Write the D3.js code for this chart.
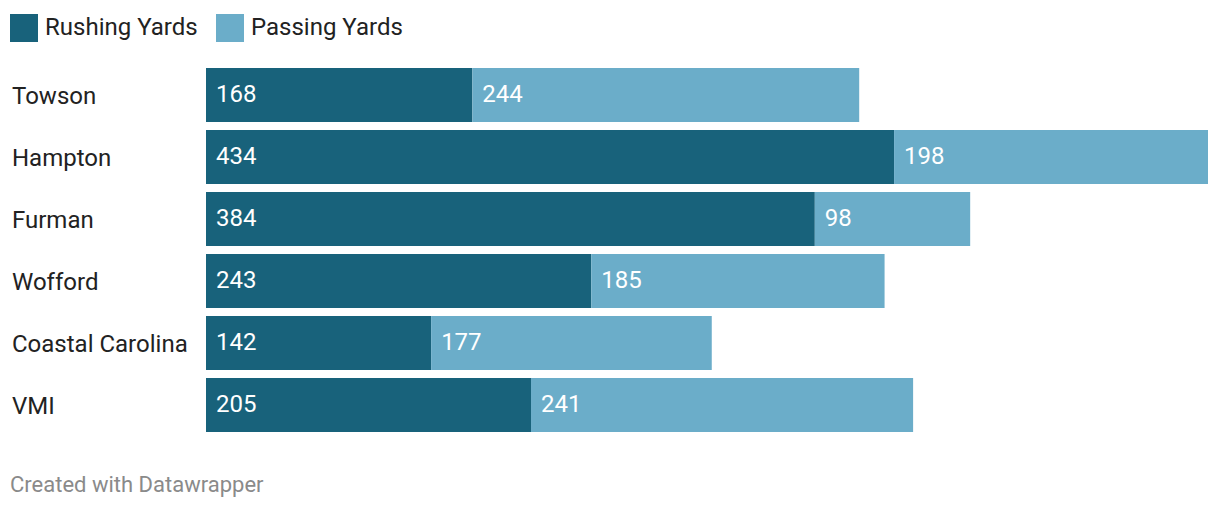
<!DOCTYPE html>
<html>
<head>
<meta charset="utf-8">
<script src="https://cdn.jsdelivr.net/npm/d3@7"></script>
<style>
  body { margin: 0; background: #fff; }
  text { font-family: Roboto, sans-serif; }
</style>
</head>
<body>
<div id="chart"></div>
<script>
const teams = ['Towson', 'Hampton', 'Furman', 'Wofford', 'Coastal Carolina', 'VMI'];
const rushing = [168, 434, 384, 243, 142, 205];
const passing = [244, 198, 98, 185, 177, 241];
const seriesNames = ['Rushing Yards', 'Passing Yards'];
const colors = ['#18627b', '#6badc9'];

const svgWidth = 1220;
const svgHeight = 510;

const svg = d3.select('#chart')
    .append('svg')
    .attr('width', svgWidth)
    .attr('height', svgHeight);

// legend
const legend = svg.append('g');
const legendX = [10, 216];
seriesNames.forEach((name, i) => {
    legend.append('rect')
        .attr('x', legendX[i])
        .attr('y', 14)
        .attr('width', 28)
        .attr('height', 28)
        .attr('fill', colors[i]);
    legend.append('text')
        .attr('x', legendX[i] + 35)
        .attr('y', 35)
        .attr('font-size', 24)
        .attr('fill', '#222')
        .text(name);
});

// scales
const totals = teams.map((t, i) => rushing[i] + passing[i]);
const x = d3.scaleLinear()
    .domain([0, d3.max(totals)])
    .range([206, 1208]);

const y = d3.scaleBand()
    .domain(teams)
    .range([68, 432])
    .paddingInner(8 / 62)
    .paddingOuter(0);

const rows = svg.selectAll('.row')
    .data(teams)
    .enter()
    .append('g')
    .classed('row', true);

// team names
rows.append('text')
    .attr('x', 12)
    .attr('y', d => y(d) + y.bandwidth() / 2 + 9)
    .attr('font-size', 24)
    .attr('fill', '#222')
    .text(d => d);

// rushing bars
rows.append('rect')
    .attr('x', x(0))
    .attr('y', d => y(d))
    .attr('width', (d, i) => x(rushing[i]) - x(0))
    .attr('height', y.bandwidth())
    .attr('fill', colors[0]);

// passing bars
rows.append('rect')
    .attr('x', (d, i) => x(rushing[i]))
    .attr('y', d => y(d))
    .attr('width', (d, i) => x(rushing[i] + passing[i]) - x(rushing[i]))
    .attr('height', y.bandwidth())
    .attr('fill', colors[1]);

// value labels
rows.append('text')
    .attr('x', x(0) + 10)
    .attr('y', d => y(d) + y.bandwidth() / 2 + 7)
    .attr('font-size', 24)
    .attr('fill', '#fff')
    .text((d, i) => rushing[i]);

rows.append('text')
    .attr('x', (d, i) => x(rushing[i]) + 10)
    .attr('y', d => y(d) + y.bandwidth() / 2 + 7)
    .attr('font-size', 24)
    .attr('fill', '#fff')
    .text((d, i) => passing[i]);

// footer
svg.append('text')
    .attr('x', 10)
    .attr('y', 492)
    .attr('font-size', 22)
    .attr('fill', '#8a8a8a')
    .text('Created with Datawrapper');
</script>
</body>
</html>
